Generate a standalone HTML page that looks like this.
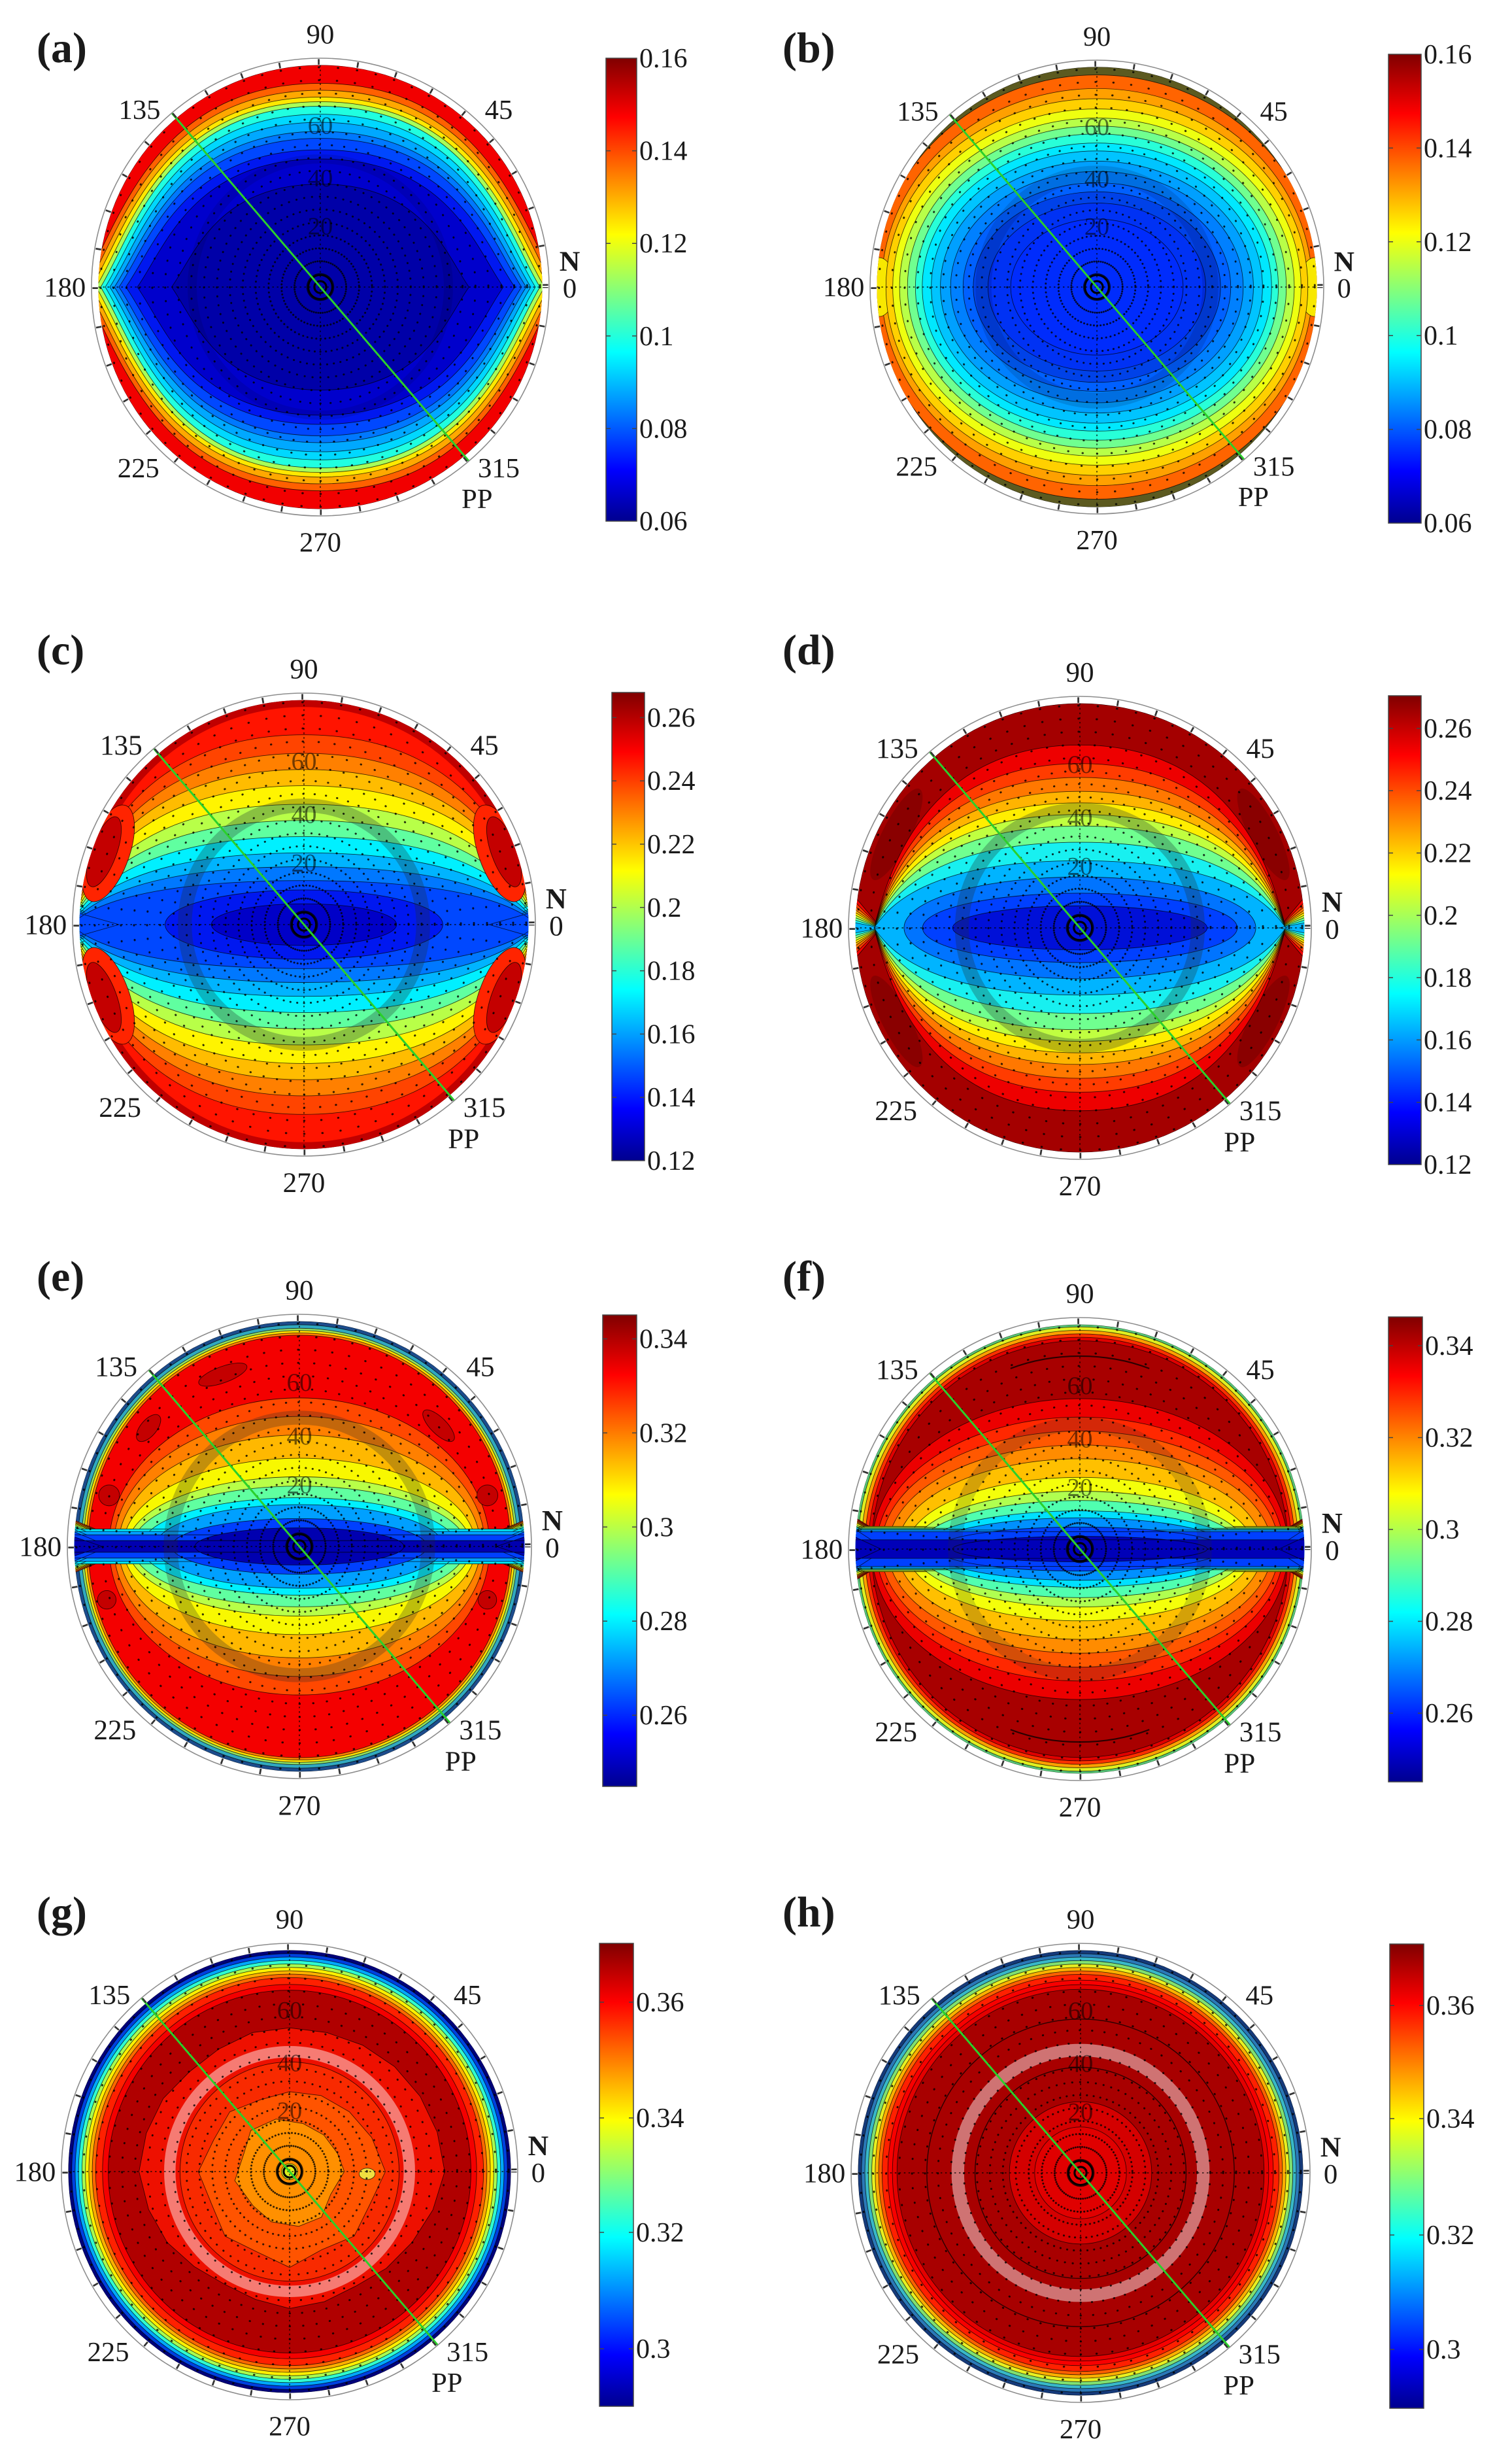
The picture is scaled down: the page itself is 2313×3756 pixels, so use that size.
<!DOCTYPE html>
<html><head><meta charset="utf-8"><style>html,body{margin:0;padding:0;background:#fff}svg{display:block}</style></head><body>
<svg xmlns="http://www.w3.org/2000/svg" width="2313" height="3756" viewBox="0 0 2313 3756" font-family="'Liberation Serif','Times New Roman',serif">
<defs>
<clipPath id="cp"><circle r="97"/></clipPath>
<linearGradient id="jet" x1="0" y1="1" x2="0" y2="0">
<stop offset="0" stop-color="#00008F"/><stop offset="0.111" stop-color="#0000FF"/><stop offset="0.365" stop-color="#00FFFF"/><stop offset="0.619" stop-color="#FFFF00"/><stop offset="0.873" stop-color="#FF0000"/><stop offset="1" stop-color="#800000"/>
</linearGradient>
<g id="dots" fill="none" stroke="#000" stroke-width="0.85" stroke-linecap="round" stroke-dasharray="0.02 0.98" stroke-opacity="0.8">
<circle r="5.65" pathLength="72"/><circle r="11.3" pathLength="72"/><circle r="16.95" pathLength="72"/><circle r="22.6" pathLength="72"/><circle r="28.25" pathLength="72"/><circle r="33.9" pathLength="72"/><circle r="39.55" pathLength="72"/><circle r="45.2" pathLength="72"/><circle r="50.85" pathLength="72"/><circle r="56.5" pathLength="72"/><circle r="62.15" pathLength="72"/><circle r="67.8" pathLength="72"/><circle r="73.45" pathLength="72"/><circle r="79.1" pathLength="72"/><circle r="84.75" pathLength="72"/><circle r="90.4" pathLength="72"/><circle r="96.05" pathLength="72"/>
</g>
<g id="frame" fill="none">
<path d="M-97 0H97M0 -97V97" stroke="#000" stroke-width="0.35" stroke-dasharray="0.7 1.3"/>
<circle r="2.6" stroke="#000" stroke-width="0.9"/>
<circle r="5.2" stroke="#000" stroke-width="0.7"/>
<line x1="-64.9" y1="-76" x2="64.9" y2="76" stroke="#2BD02B" stroke-width="0.85"/>
<circle r="100" stroke="#8C8C8C" stroke-width="0.45"/>
<circle r="98.4" stroke="#333" stroke-width="2.4" pathLength="36" stroke-dasharray="0.045 0.955" stroke-dashoffset="0.0225"/>
</g>
</defs>
<rect width="2313" height="3756" fill="#fff"/>

<!-- ================= (a) ================= -->
<g transform="translate(490 439) scale(3.5)">
<g clip-path="url(#cp)" stroke="#000" stroke-width="0.25" stroke-opacity="0.75">
<circle r="97" fill="#F20000"/>
<path fill="#FF6000" d="M-104 0C-88.4 -26.7 -72.8 -89 0 -89C72.8 -89 88.4 -26.7 104 0C88.4 26.7 72.8 89 0 89C-72.8 89 -88.4 26.7 -104 0Z"/>
<path fill="#FFA800" d="M-102 0C-86.7 -25.8 -71.4 -86 0 -86C71.4 -86 86.7 -25.8 102 0C86.7 25.8 71.4 86 0 86C-71.4 86 -86.7 25.8 -102 0Z"/>
<path fill="#FFE800" d="M-100 0C-85 -24.9 -70 -83 0 -83C70 -83 85 -24.9 100 0C85 24.9 70 83 0 83C-70 83 -85 24.9 -100 0Z"/>
<path fill="#A8FF58" d="M-98 0C-83.3 -24.3 -68.6 -81 0 -81C68.6 -81 83.3 -24.3 98 0C83.3 24.3 68.6 81 0 81C-68.6 81 -83.3 24.3 -98 0Z"/>
<path fill="#20FFE0" d="M-96 0C-81.6 -23.7 -67.2 -79 0 -79C67.2 -79 81.6 -23.7 96 0C81.6 23.7 67.2 79 0 79C-67.2 79 -81.6 23.7 -96 0Z"/>
<path fill="#00D8FF" d="M-94 0C-79.9 -22.65 -65.8 -75.5 0 -75.5C65.8 -75.5 79.9 -22.65 94 0C79.9 22.65 65.8 75.5 0 75.5C-65.8 75.5 -79.9 22.65 -94 0Z"/>
<path fill="#00A8FF" d="M-92 0C-78.2 -21.6 -64.4 -72 0 -72C64.4 -72 78.2 -21.6 92 0C78.2 21.6 64.4 72 0 72C-64.4 72 -78.2 21.6 -92 0Z"/>
<path fill="#0078FF" d="M-90 0C-76.5 -20.4 -63 -68 0 -68C63 -68 76.5 -20.4 90 0C76.5 20.4 63 68 0 68C-63 68 -76.5 20.4 -90 0Z"/>
<path fill="#0048FF" d="M-88 0C-74.8 -19.5 -61.6 -65 0 -65C61.6 -65 74.8 -19.5 88 0C74.8 19.5 61.6 65 0 65C-61.6 65 -74.8 19.5 -88 0Z"/>
<path fill="#0018F0" d="M-85 0C-72.25 -18 -59.5 -60 0 -60C59.5 -60 72.25 -18 85 0C72.25 18 59.5 60 0 60C-59.5 60 -72.25 18 -85 0Z"/>
<path fill="#0000CC" d="M-80 0C-68 -16.8 -56 -56 0 -56C56 -56 68 -16.8 80 0C68 16.8 56 56 0 56C-56 56 -68 16.8 -80 0Z"/>
<path fill="#0000A8" d="M-65 0C-55.25 -13.5 -45.5 -45 0 -45C45.5 -45 55.25 -13.5 65 0C55.25 13.5 45.5 45 0 45C-45.5 45 -55.25 13.5 -65 0Z"/>
</g>
<circle r="56" fill="none" stroke="rgba(0,0,0,0.1)" stroke-width="4"/>
<use href="#dots"/>
<use href="#frame"/>
<g font-size="12.2" fill="#1a1a1a" text-anchor="middle">
<text x="0" y="-106.4">90</text><text x="0" y="115.6">270</text><text x="-102.5" y="4.1" text-anchor="end">180</text><text x="109" y="4.6">0</text><text x="109" y="-7.1" font-weight="bold" font-size="12.5">N</text><text x="-79" y="-73.4">135</text><text x="78" y="-73.4">45</text><text x="-79.5" y="83.1">225</text><text x="78" y="83.1">315</text><text x="68.5" y="96.6">PP</text>
<g font-size="11" fill="#000" fill-opacity="0.55"><text x="0" y="-67">60</text><text x="0" y="-44">40</text><text x="0" y="-23">20</text></g>
</g>
</g>
<text x="56" y="95" font-size="66" font-weight="bold" fill="#1a1a1a">(a)</text>
<rect x="927" y="89" width="47" height="708" fill="url(#jet)" stroke="#444" stroke-width="1.5"/>
<g stroke="#444" stroke-width="1.5"><path d="M927 230.6h7M974 230.6h-7M927 372.2h7M974 372.2h-7M927 513.8h7M974 513.8h-7M927 655.4h7M974 655.4h-7"/></g>
<g font-size="42" fill="#1a1a1a"><text x="978" y="103">0.16</text><text x="978" y="244.6">0.14</text><text x="978" y="386.2">0.12</text><text x="978" y="527.8">0.1</text><text x="978" y="669.4">0.08</text><text x="978" y="811">0.06</text></g>

<!-- ================= (b) ================= -->
<g transform="translate(1678 439) scale(3.47)">
<g clip-path="url(#cp)" stroke="#000" stroke-width="0.25" stroke-opacity="0.75">
<circle r="97" fill="#5C5A20"/>
<ellipse rx="98.5" ry="93.5" fill="#FF6400"/>
<ellipse rx="95" ry="87.5" fill="#FFA000"/>
<ellipse cx="-96" rx="7" ry="13" fill="#F8E800"/>
<ellipse cx="96" rx="7" ry="13" fill="#F8E800"/>
<ellipse rx="93" ry="83" fill="#FFD000"/>
<ellipse rx="90" ry="78.5" fill="#EEFF10"/>
<ellipse rx="87" ry="74.5" fill="#B8FF48"/>
<ellipse rx="83.5" ry="71" fill="#70FF90"/>
<ellipse rx="80" ry="67.5" fill="#28FFD8"/>
<ellipse rx="77" ry="63.5" fill="#00E8FF"/>
<ellipse rx="73" ry="60" fill="#00C4FF"/>
<ellipse rx="69" ry="55.5" fill="#00A0FF"/>
<ellipse rx="64.5" ry="51" fill="#0080FF"/>
<ellipse rx="59" ry="46" fill="#0060FF"/>
<ellipse rx="54.5" ry="42" fill="#0042E8"/>
<ellipse rx="48" ry="37" fill="#0032F4"/>
<ellipse rx="38" ry="30" fill="#002CFC"/>
</g>
<circle r="50" fill="none" stroke="rgba(0,0,40,0.14)" stroke-width="7"/>
<use href="#dots"/>
<use href="#frame"/>
<g font-size="12.2" fill="#1a1a1a" text-anchor="middle">
<text x="0" y="-106.4">90</text><text x="0" y="115.6">270</text><text x="-102.5" y="4.1" text-anchor="end">180</text><text x="109" y="4.6">0</text><text x="109" y="-7.1" font-weight="bold" font-size="12.5">N</text><text x="-79" y="-73.4">135</text><text x="78" y="-73.4">45</text><text x="-79.5" y="83.1">225</text><text x="78" y="83.1">315</text><text x="69" y="96.6">PP</text>
<g font-size="11" fill="#000" fill-opacity="0.55"><text x="0" y="-67">60</text><text x="0" y="-44">40</text><text x="0" y="-23">20</text></g>
</g>
</g>
<text x="1197" y="95" font-size="66" font-weight="bold" fill="#1a1a1a">(b)</text>
<rect x="2124" y="83" width="50" height="717" fill="url(#jet)" stroke="#444" stroke-width="1.5"/>
<g stroke="#444" stroke-width="1.5"><path d="M2124 226.4h7M2174 226.4h-7M2124 369.8h7M2174 369.8h-7M2124 513.2h7M2174 513.2h-7M2124 656.6h7M2174 656.6h-7"/></g>
<g font-size="42" fill="#1a1a1a"><text x="2178" y="97">0.16</text><text x="2178" y="240.4">0.14</text><text x="2178" y="383.8">0.12</text><text x="2178" y="527.2">0.1</text><text x="2178" y="670.6">0.08</text><text x="2178" y="814">0.06</text></g>

<!-- ================= (c) ================= -->
<g transform="translate(465 1414) scale(3.54)">
<g clip-path="url(#cp)" stroke="#000" stroke-width="0.25" stroke-opacity="0.75">
<circle r="97" fill="#FF1400"/>
<path d="M-82.7 -47.75A95.5 95.5 0 0 1 82.7 -47.75M82.7 47.75A95.5 95.5 0 0 1 -82.7 47.75" fill="none" stroke="#C00000" stroke-opacity="1" stroke-width="3"/>
<path fill="#FF4400" d="M-101 0C-95.95 -16.4 -80.8 -82 0 -82C80.8 -82 95.95 -16.4 101 0C95.95 16.4 80.8 82 0 82C-80.8 82 -95.95 16.4 -101 0ZM-80 0L-101 18L-101 -18ZM80 0L101 -18L101 18Z"/>
<path fill="#FF8000" d="M-101 0C-95.95 -14.8 -80.8 -74 0 -74C80.8 -74 95.95 -14.8 101 0C95.95 14.8 80.8 74 0 74C-80.8 74 -95.95 14.8 -101 0ZM-80 0L-101 16L-101 -16ZM80 0L101 -16L101 16Z"/>
<path fill="#FFBC00" d="M-101 0C-95.95 -13.4 -80.8 -67 0 -67C80.8 -67 95.95 -13.4 101 0C95.95 13.4 80.8 67 0 67C-80.8 67 -95.95 13.4 -101 0ZM-80 0L-101 15L-101 -15ZM80 0L101 -15L101 15Z"/>
<path fill="#FFF400" d="M-101 0C-95.95 -12 -80.8 -60 0 -60C80.8 -60 95.95 -12 101 0C95.95 12 80.8 60 0 60C-80.8 60 -95.95 12 -101 0ZM-80 0L-101 14L-101 -14ZM80 0L101 -14L101 14Z"/>
<path fill="#B8FF48" d="M-101 0C-95.95 -10.4 -80.8 -52 0 -52C80.8 -52 95.95 -10.4 101 0C95.95 10.4 80.8 52 0 52C-80.8 52 -95.95 10.4 -101 0ZM-80 0L-101 12.5L-101 -12.5ZM80 0L101 -12.5L101 12.5Z"/>
<path fill="#60FFA0" d="M-101 0C-95.95 -9 -80.8 -45 0 -45C80.8 -45 95.95 -9 101 0C95.95 9 80.8 45 0 45C-80.8 45 -95.95 9 -101 0ZM-80 0L-101 11L-101 -11ZM80 0L101 -11L101 11Z"/>
<path fill="#00F0FF" d="M-101 0C-95.95 -7.6 -80.8 -38 0 -38C80.8 -38 95.95 -7.6 101 0C95.95 7.6 80.8 38 0 38C-80.8 38 -95.95 7.6 -101 0ZM-80 0L-101 10L-101 -10ZM80 0L101 -10L101 10Z"/>
<path fill="#00B4FF" d="M-101 0C-95.95 -6.2 -80.8 -31 0 -31C80.8 -31 95.95 -6.2 101 0C95.95 6.2 80.8 31 0 31C-80.8 31 -95.95 6.2 -101 0ZM-80 0L-101 8L-101 -8ZM80 0L101 -8L101 8Z"/>
<path fill="#0078FF" d="M-101 0C-95.95 -5 -80.8 -25 0 -25C80.8 -25 95.95 -5 101 0C95.95 5 80.8 25 0 25C-80.8 25 -95.95 5 -101 0ZM-80 0L-101 7L-101 -7ZM80 0L101 -7L101 7Z"/>
<path fill="#0048FF" d="M-101 0C-95.95 -3.8 -80.8 -19 0 -19C80.8 -19 95.95 -3.8 101 0C95.95 3.8 80.8 19 0 19C-80.8 19 -95.95 3.8 -101 0ZM-80 0L-101 6L-101 -6ZM80 0L101 -6L101 6Z"/>
<ellipse rx="60" ry="15" fill="#0018F0"/>
<ellipse rx="40" ry="9" fill="#0000C8"/>
<g fill="#FF2400"><ellipse cx="90" rx="9" ry="22" transform="rotate(-160)"/><ellipse cx="90" rx="9" ry="22" transform="rotate(-20)"/><ellipse cx="90" rx="9" ry="22" transform="rotate(20)"/><ellipse cx="90" rx="9" ry="22" transform="rotate(160)"/></g>
<g fill="#C40000"><ellipse cx="92" rx="5.5" ry="16" transform="rotate(-160)"/><ellipse cx="92" rx="5.5" ry="16" transform="rotate(-20)"/><ellipse cx="92" rx="5.5" ry="16" transform="rotate(20)"/><ellipse cx="92" rx="5.5" ry="16" transform="rotate(160)"/></g>
</g>
<circle r="51.5" fill="none" stroke="rgba(30,50,50,0.3)" stroke-width="6"/>
<use href="#dots"/>
<use href="#frame"/>
<g font-size="12.2" fill="#1a1a1a" text-anchor="middle">
<text x="0" y="-106.4">90</text><text x="0" y="115.6">270</text><text x="-102.5" y="4.1" text-anchor="end">180</text><text x="109" y="4.6">0</text><text x="109" y="-7.1" font-weight="bold" font-size="12.5">N</text><text x="-79" y="-73.4">135</text><text x="78" y="-73.4">45</text><text x="-79.5" y="83.1">225</text><text x="78" y="83.1">315</text><text x="69" y="96.6">PP</text>
<g font-size="11" fill="#000" fill-opacity="0.55"><text x="0" y="-67">60</text><text x="0" y="-44">40</text><text x="0" y="-23">20</text></g>
</g>
</g>
<text x="56" y="1016" font-size="66" font-weight="bold" fill="#1a1a1a">(c)</text>
<rect x="936" y="1059" width="50" height="716" fill="url(#jet)" stroke="#444" stroke-width="1.5"/>
<g stroke="#444" stroke-width="1.5"><path d="M936 1097.4h7M986 1097.4h-7M936 1194.2h7M986 1194.2h-7M936 1291h7M986 1291h-7M936 1387.8h7M986 1387.8h-7M936 1484.6h7M986 1484.6h-7M936 1581.4h7M986 1581.4h-7M936 1678.2h7M986 1678.2h-7"/></g>
<g font-size="42" fill="#1a1a1a"><text x="990" y="1111.4">0.26</text><text x="990" y="1208.2">0.24</text><text x="990" y="1305">0.22</text><text x="990" y="1401.8">0.2</text><text x="990" y="1498.6">0.18</text><text x="990" y="1595.4">0.16</text><text x="990" y="1692.2">0.14</text><text x="990" y="1789">0.12</text></g>

<!-- ================= (d) ================= -->
<g transform="translate(1652 1419) scale(3.54)">
<g clip-path="url(#cp)" stroke="#000" stroke-width="0.25" stroke-opacity="0.75">
<circle r="97" fill="#A40000"/>
<g fill="#8A0000" stroke="none"><ellipse cx="89" rx="6" ry="22" transform="rotate(-153)"/><ellipse cx="89" rx="6" ry="22" transform="rotate(-27)"/><ellipse cx="89" rx="6" ry="22" transform="rotate(27)"/><ellipse cx="89" rx="6" ry="22" transform="rotate(153)"/></g>
<path fill="#EE0000" d="M-89 0C-84.55 -15.8 -71.2 -79 0 -79C71.2 -79 84.55 -15.8 89 0C84.55 15.8 71.2 79 0 79C-71.2 79 -84.55 15.8 -89 0ZM-86 0L-101 18L-101 -18ZM86 0L101 -18L101 18Z"/>
<path fill="#FF3C00" d="M-89 0C-84.55 -14.2 -71.2 -71 0 -71C71.2 -71 84.55 -14.2 89 0C84.55 14.2 71.2 71 0 71C-71.2 71 -84.55 14.2 -89 0ZM-86 0L-101 15L-101 -15ZM86 0L101 -15L101 15Z"/>
<path fill="#FF7800" d="M-89 0C-84.55 -13 -71.2 -65 0 -65C71.2 -65 84.55 -13 89 0C84.55 13 71.2 65 0 65C-71.2 65 -84.55 13 -89 0ZM-86 0L-101 12.5L-101 -12.5ZM86 0L101 -12.5L101 12.5Z"/>
<path fill="#FFB400" d="M-89 0C-84.55 -11.8 -71.2 -59 0 -59C71.2 -59 84.55 -11.8 89 0C84.55 11.8 71.2 59 0 59C-71.2 59 -84.55 11.8 -89 0ZM-86 0L-101 10.5L-101 -10.5ZM86 0L101 -10.5L101 10.5Z"/>
<path fill="#FFEE00" d="M-89 0C-84.55 -10.8 -71.2 -54 0 -54C71.2 -54 84.55 -10.8 89 0C84.55 10.8 71.2 54 0 54C-71.2 54 -84.55 10.8 -89 0ZM-86 0L-101 9L-101 -9ZM86 0L101 -9L101 9Z"/>
<path fill="#C0FF40" d="M-89 0C-84.55 -9.8 -71.2 -49 0 -49C71.2 -49 84.55 -9.8 89 0C84.55 9.8 71.2 49 0 49C-71.2 49 -84.55 9.8 -89 0ZM-86 0L-101 7.5L-101 -7.5ZM86 0L101 -7.5L101 7.5Z"/>
<path fill="#70FF90" d="M-89 0C-84.55 -8.8 -71.2 -44 0 -44C71.2 -44 84.55 -8.8 89 0C84.55 8.8 71.2 44 0 44C-71.2 44 -84.55 8.8 -89 0ZM-86 0L-101 6L-101 -6ZM86 0L101 -6L101 6Z"/>
<path fill="#18F0F0" d="M-89 0C-84.55 -7.4 -71.2 -37 0 -37C71.2 -37 84.55 -7.4 89 0C84.55 7.4 71.2 37 0 37C-71.2 37 -84.55 7.4 -89 0ZM-86 0L-101 4.5L-101 -4.5ZM86 0L101 -4.5L101 4.5Z"/>
<path fill="#00B4FF" d="M-89 0C-84.55 -5.8 -71.2 -29 0 -29C71.2 -29 84.55 -5.8 89 0C84.55 5.8 71.2 29 0 29C-71.2 29 -84.55 5.8 -89 0ZM-86 0L-101 3L-101 -3ZM86 0L101 -3L101 3Z"/>
<ellipse rx="76" ry="22" fill="#0074FF"/>
<ellipse rx="68" ry="15" fill="#0040FF"/>
<ellipse rx="55" ry="9.5" fill="#0010D8"/>
</g>
<circle r="51" fill="none" stroke="rgba(30,50,50,0.3)" stroke-width="6"/>
<use href="#dots"/>
<use href="#frame"/>
<g font-size="12.2" fill="#1a1a1a" text-anchor="middle">
<text x="0" y="-106.4">90</text><text x="0" y="115.6">270</text><text x="-102.5" y="4.1" text-anchor="end">180</text><text x="109" y="4.6">0</text><text x="109" y="-7.1" font-weight="bold" font-size="12.5">N</text><text x="-79" y="-73.4">135</text><text x="78" y="-73.4">45</text><text x="-79.5" y="83.1">225</text><text x="78" y="83.1">315</text><text x="69" y="96.6">PP</text>
<g font-size="11" fill="#000" fill-opacity="0.55"><text x="0" y="-67">60</text><text x="0" y="-44">40</text><text x="0" y="-23">20</text></g>
</g>
</g>
<text x="1197" y="1016" font-size="66" font-weight="bold" fill="#1a1a1a">(d)</text>
<rect x="2124" y="1064" width="50" height="717" fill="url(#jet)" stroke="#444" stroke-width="1.5"/>
<g stroke="#444" stroke-width="1.5"><path d="M2124 1113.9h7M2174 1113.9h-7M2124 1209.2h7M2174 1209.2h-7M2124 1304.5h7M2174 1304.5h-7M2124 1399.8h7M2174 1399.8h-7M2124 1495.1h7M2174 1495.1h-7M2124 1590.4h7M2174 1590.4h-7M2124 1685.7h7M2174 1685.7h-7"/></g>
<g font-size="42" fill="#1a1a1a"><text x="2178" y="1127.9">0.26</text><text x="2178" y="1223.2">0.24</text><text x="2178" y="1318.5">0.22</text><text x="2178" y="1413.8">0.2</text><text x="2178" y="1509.1">0.18</text><text x="2178" y="1604.4">0.16</text><text x="2178" y="1699.7">0.14</text><text x="2178" y="1795">0.12</text></g>

<!-- ================= (e) ================= -->
<g transform="translate(458 2365) scale(3.55)">
<g clip-path="url(#cp)" stroke="#000" stroke-width="0.25" stroke-opacity="0.75">
<circle r="97" fill="#1C4C8C"/>
<circle r="95.5" fill="#30A8C0"/>
<circle r="94" fill="#90E060"/>
<circle r="93" fill="#FFE000"/>
<circle r="92" fill="#FF8000"/>
<circle r="91" fill="#F40000"/>
<path fill="#FF4800" d="M-82 0A82 64 0 0 1 82 0A82 64 0 0 1 -82 0ZM-70 0L-101 13L-101 -13ZM70 0L101 -13L101 13Z"/>
<path fill="#FF8000" d="M-80 0A80 56 0 0 1 80 0A80 56 0 0 1 -80 0ZM-70 0L-101 12.5L-101 -12.5ZM70 0L101 -12.5L101 12.5Z"/>
<path fill="#FFB800" d="M-78 0A78 48 0 0 1 78 0A78 48 0 0 1 -78 0ZM-70 0L-101 12L-101 -12ZM70 0L101 -12L101 12Z"/>
<path fill="#F8F800" d="M-76 0A76 38 0 0 1 76 0A76 38 0 0 1 -76 0ZM-70 0L-101 11.5L-101 -11.5ZM70 0L101 -11.5L101 11.5Z"/>
<path fill="#B8FF48" d="M-74 0A74 30 0 0 1 74 0A74 30 0 0 1 -74 0ZM-70 0L-101 11L-101 -11ZM70 0L101 -11L101 11Z"/>
<path fill="#60FFA0" d="M-72 0A72 26 0 0 1 72 0A72 26 0 0 1 -72 0ZM-72 0L-101 10.5L-101 -10.5ZM72 0L101 -10.5L101 10.5Z"/>
<path fill="#00F0FF" d="M-68 0A68 21 0 0 1 68 0A68 21 0 0 1 -68 0ZM-101 -7.5L101 -7.5L101 7.5L-101 7.5ZM-75 0L-101 10L-101 -10ZM75 0L101 -10L101 10Z"/>
<path fill="#00A0FF" d="M-62 0A62 18 0 0 1 62 0A62 18 0 0 1 -62 0ZM-101 -6.5L101 -6.5L101 6.5L-101 6.5ZM-80 0L-101 9L-101 -9ZM80 0L101 -9L101 9Z"/>
<path fill="#0040FF" d="M-55 0A55 12 0 0 1 55 0A55 12 0 0 1 -55 0ZM-101 -5L101 -5L101 5L-101 5ZM-82 0L-101 8L-101 -8ZM82 0L101 -8L101 8Z"/>
<path fill="#0000B0" d="M-45 0A45 8 0 0 1 45 0A45 8 0 0 1 -45 0ZM-101 -2.5L101 -2.5L101 2.5L-101 2.5ZM-85 0L-101 5.5L-101 -5.5ZM85 0L101 -5.5L101 5.5Z"/>
<g fill="#C40000"><ellipse cx="-33" cy="-74" rx="11" ry="3.5" transform="rotate(-20 -33 -74)"/><ellipse cx="-65" cy="-51" rx="7" ry="3.5" transform="rotate(-50 -65 -51)"/><ellipse cx="60" cy="-52" rx="9" ry="3.5" transform="rotate(45 60 -52)"/><circle cx="-82" cy="-22" r="4.5"/><circle cx="81" cy="-22" r="4.5"/><circle cx="-83" cy="23" r="4"/><circle cx="81" cy="23" r="4"/></g>
</g>
<circle r="55.5" fill="none" stroke="rgba(40,40,40,0.28)" stroke-width="6"/>
<use href="#dots"/>
<use href="#frame"/>
<g font-size="12.2" fill="#1a1a1a" text-anchor="middle">
<text x="0" y="-106.4">90</text><text x="0" y="115.6">270</text><text x="-102.5" y="4.1" text-anchor="end">180</text><text x="109" y="4.6">0</text><text x="109" y="-7.1" font-weight="bold" font-size="12.5">N</text><text x="-79" y="-73.4">135</text><text x="78" y="-73.4">45</text><text x="-79.5" y="83.1">225</text><text x="78" y="83.1">315</text><text x="69.5" y="96.6">PP</text>
<g font-size="11" fill="#000" fill-opacity="0.55"><text x="0" y="-67">60</text><text x="0" y="-44">40</text><text x="0" y="-23">20</text></g>
</g>
</g>
<text x="56" y="1974" font-size="66" font-weight="bold" fill="#1a1a1a">(e)</text>
<rect x="922" y="2011" width="52" height="721" fill="url(#jet)" stroke="#444" stroke-width="1.5"/>
<g stroke="#444" stroke-width="1.5"><path d="M922 2047.5h7M974 2047.5h-7M922 2191.4h7M974 2191.4h-7M922 2335.3h7M974 2335.3h-7M922 2479.2h7M974 2479.2h-7M922 2623.1h7M974 2623.1h-7"/></g>
<g font-size="42" fill="#1a1a1a"><text x="978" y="2061.5">0.34</text><text x="978" y="2205.4">0.32</text><text x="978" y="2349.3">0.3</text><text x="978" y="2493.2">0.28</text><text x="978" y="2637.1">0.26</text></g>

<!-- ================= (f) ================= -->
<g transform="translate(1652 2369) scale(3.54)">
<g clip-path="url(#cp)" stroke="#000" stroke-width="0.25" stroke-opacity="0.75">
<circle r="97" fill="#58C878"/>
<circle r="96" fill="#E0F020"/>
<circle r="94.5" fill="#FFA000"/>
<circle r="93" fill="#FF3000"/>
<circle r="91.5" fill="#E00000"/>
<circle r="90" fill="#A80000"/>
<path fill="#EC0000" d="M-90 0A90 65 0 0 1 90 0A90 65 0 0 1 -90 0ZM-75 0L-101 16L-101 -16ZM75 0L101 -16L101 16Z"/>
<path fill="#FF2800" d="M-88 0A88 57 0 0 1 88 0A88 57 0 0 1 -88 0ZM-75 0L-101 15.5L-101 -15.5ZM75 0L101 -15.5L101 15.5Z"/>
<path fill="#FF5800" d="M-86 0A86 51 0 0 1 86 0A86 51 0 0 1 -86 0ZM-75 0L-101 15L-101 -15ZM75 0L101 -15L101 15Z"/>
<path fill="#FF8C00" d="M-83 0A83 45 0 0 1 83 0A83 45 0 0 1 -83 0ZM-75 0L-101 14.5L-101 -14.5ZM75 0L101 -14.5L101 14.5Z"/>
<path fill="#FFC000" d="M-79 0A79 39 0 0 1 79 0A79 39 0 0 1 -79 0ZM-75 0L-101 14L-101 -14ZM75 0L101 -14L101 14Z"/>
<path fill="#F4FF0A" d="M-75 0A75 31 0 0 1 75 0A75 31 0 0 1 -75 0ZM-101 -9.8L101 -9.8L101 9.8L-101 9.8ZM-75 0L-101 13.5L-101 -13.5ZM75 0L101 -13.5L101 13.5Z"/>
<path fill="#B0FF50" d="M-72 0A72 25 0 0 1 72 0A72 25 0 0 1 -72 0ZM-101 -9.4L101 -9.4L101 9.4L-101 9.4ZM-78 0L-101 13L-101 -13ZM78 0L101 -13L101 13Z"/>
<path fill="#50FFB0" d="M-70 0A70 21 0 0 1 70 0A70 21 0 0 1 -70 0ZM-101 -9L101 -9L101 9L-101 9ZM-80 0L-101 12.5L-101 -12.5ZM80 0L101 -12.5L101 12.5Z"/>
<path fill="#00E0FF" d="M-68 0A68 16.5 0 0 1 68 0A68 16.5 0 0 1 -68 0ZM-101 -8.6L101 -8.6L101 8.6L-101 8.6ZM-80 0L-101 12L-101 -12ZM80 0L101 -12L101 12Z"/>
<path fill="#0090FF" d="M-65 0A65 13.5 0 0 1 65 0A65 13.5 0 0 1 -65 0ZM-101 -8.2L101 -8.2L101 8.2L-101 8.2ZM-82 0L-101 11.5L-101 -11.5ZM82 0L101 -11.5L101 11.5Z"/>
<path fill="#0040FF" d="M-62 0A62 9.5 0 0 1 62 0A62 9.5 0 0 1 -62 0ZM-101 -7.5L101 -7.5L101 7.5L-101 7.5ZM-84 0L-101 11L-101 -11ZM84 0L101 -11L101 11Z"/>
<path fill="#0000B8" d="M-55 0A55 5.5 0 0 1 55 0A55 5.5 0 0 1 -55 0ZM-101 -4L101 -4L101 4L-101 4ZM-86 0L-101 7L-101 -7ZM86 0L101 -7L101 7Z"/>
<path d="M-30 -78A60 40 0 0 1 30 -78M-30 78A60 40 0 0 0 30 78" fill="none" stroke-width="0.6"/>
</g>
<circle r="54" fill="none" stroke="rgba(40,40,40,0.2)" stroke-width="6"/>
<use href="#dots"/>
<use href="#frame"/>
<g font-size="12.2" fill="#1a1a1a" text-anchor="middle">
<text x="0" y="-106.4">90</text><text x="0" y="115.6">270</text><text x="-102.5" y="4.1" text-anchor="end">180</text><text x="109" y="4.6">0</text><text x="109" y="-7.1" font-weight="bold" font-size="12.5">N</text><text x="-79" y="-73.4">135</text><text x="78" y="-73.4">45</text><text x="-79.5" y="83.1">225</text><text x="78" y="83.1">315</text><text x="69" y="96.6">PP</text>
<g font-size="11" fill="#000" fill-opacity="0.55"><text x="0" y="-67">60</text><text x="0" y="-44">40</text><text x="0" y="-23">20</text></g>
</g>
</g>
<text x="1197" y="1974" font-size="66" font-weight="bold" fill="#1a1a1a">(f)</text>
<rect x="2124" y="2014" width="52" height="711" fill="url(#jet)" stroke="#444" stroke-width="1.5"/>
<g stroke="#444" stroke-width="1.5"><path d="M2124 2058h7M2176 2058h-7M2124 2198.5h7M2176 2198.5h-7M2124 2339h7M2176 2339h-7M2124 2479.5h7M2176 2479.5h-7M2124 2620h7M2176 2620h-7"/></g>
<g font-size="42" fill="#1a1a1a"><text x="2180" y="2072">0.34</text><text x="2180" y="2212.5">0.32</text><text x="2180" y="2353">0.3</text><text x="2180" y="2493.5">0.28</text><text x="2180" y="2634">0.26</text></g>

<!-- ================= (g) ================= -->
<g transform="translate(443 3321) scale(3.49)">
<g clip-path="url(#cp)" stroke="#000" stroke-width="0.25" stroke-opacity="0.75">
<circle r="97" fill="#00007A"/>
<circle r="95.5" fill="#0040E0"/>
<circle r="94" fill="#00A8FF"/>
<circle r="92.5" fill="#30FFD0"/>
<circle r="91" fill="#A8FF50"/>
<circle r="89.5" fill="#FFF000"/>
<circle r="88" fill="#FFB000"/>
<circle r="86.5" fill="#FF6800"/>
<circle r="85" fill="#FF2000"/>
<circle r="82" fill="#F40000"/>
<circle r="79.5" fill="#B00000"/>
<path fill="#EE1000" d="M68 0L62.8 16.8L53.7 31L42.4 42.4L29 50.2L15.3 57L0 60L-15 56L-28.5 49.4L-41.7 41.7L-53.7 31L-61.8 16.6L-66 0L-62.8 -16.8L-55.4 -32L-43.8 -43.8L-31 -53.7L-16.3 -60.9L0 -63L16.3 -60.9L32 -55.4L46 -46L57.2 -33L64.7 -17.3Z"/>
<circle r="48" fill="#F82A00"/>
<path fill="#FF5400" d="M42 0L35.1 14.6L28.3 28.3L14.2 34.2L0 42L-14.5 35.1L-28.3 28.3L-34.2 14.2L-40 0L-33.3 -13.8L-26.2 -26.2L-13 -31.4L0 -35L13.8 -33.3L26.2 -26.2L36 -14.9Z"/>
<path fill="#FF9000" d="M24 0L18 10L14 20L4 24L-8 22L-16 15L-24 4L-20 -8L-17 -18L-6 -23L6 -21L15 -16L21 -8Z"/>
<circle r="3.5" fill="#D8F020"/>
<ellipse cx="34" cy="1" rx="3.5" ry="2.5" fill="#F0E040"/>
</g>
<circle r="52.5" fill="none" stroke="rgba(255,255,255,0.45)" stroke-width="5"/>
<use href="#dots"/>
<use href="#frame"/>
<g font-size="12.2" fill="#1a1a1a" text-anchor="middle">
<text x="0" y="-106.4">90</text><text x="0" y="115.6">270</text><text x="-102.5" y="4.1" text-anchor="end">180</text><text x="109" y="4.6">0</text><text x="109" y="-7.1" font-weight="bold" font-size="12.5">N</text><text x="-79" y="-73.4">135</text><text x="78" y="-73.4">45</text><text x="-79.5" y="83.1">225</text><text x="78" y="83.1">315</text><text x="69" y="96.6">PP</text>
<g font-size="11" fill="#000" fill-opacity="0.55"><text x="0" y="-67">60</text><text x="0" y="-44">40</text><text x="0" y="-23">20</text></g>
</g>
</g>
<text x="56" y="2946" font-size="66" font-weight="bold" fill="#1a1a1a">(g)</text>
<rect x="917" y="2972" width="52" height="708" fill="url(#jet)" stroke="#444" stroke-width="1.5"/>
<g stroke="#444" stroke-width="1.5"><path d="M917 3062h7M969 3062h-7M917 3239h7M969 3239h-7M917 3414h7M969 3414h-7M917 3592h7M969 3592h-7"/></g>
<g font-size="42" fill="#1a1a1a"><text x="973" y="3076">0.36</text><text x="973" y="3253">0.34</text><text x="973" y="3428">0.32</text><text x="973" y="3606">0.3</text></g>

<!-- ================= (h) ================= -->
<g transform="translate(1653 3323) scale(3.51)">
<g clip-path="url(#cp)" stroke="#000" stroke-width="0.25" stroke-opacity="0.75">
<circle r="97" fill="#153A7A"/>
<circle r="95.5" fill="#2A78B8"/>
<circle r="94" fill="#38B8C8"/>
<circle r="92.5" fill="#80E070"/>
<circle r="91" fill="#E8F020"/>
<circle r="89.5" fill="#FFB000"/>
<circle r="88" fill="#FF6000"/>
<circle r="86.5" fill="#FF2000"/>
<circle r="84" fill="#F80000"/>
<circle r="82" fill="#E40000"/>
<circle r="80" fill="#A80000"/>
<circle r="67" fill="none" stroke-width="0.4"/>
<circle r="46" fill="none" stroke-width="0.4"/>
<circle r="31" fill="#D40000"/>
<circle r="20" fill="#E00000"/>
</g>
<circle r="53.5" fill="none" stroke="rgba(255,255,255,0.45)" stroke-width="5.5"/>
<use href="#dots"/>
<use href="#frame"/>
<g font-size="12.2" fill="#1a1a1a" text-anchor="middle">
<text x="0" y="-106.4">90</text><text x="0" y="115.6">270</text><text x="-102.5" y="4.1" text-anchor="end">180</text><text x="109" y="4.6">0</text><text x="109" y="-7.1" font-weight="bold" font-size="12.5">N</text><text x="-79" y="-73.4">135</text><text x="78" y="-73.4">45</text><text x="-79.5" y="83.1">225</text><text x="78" y="83.1">315</text><text x="69" y="96.6">PP</text>
<g font-size="11" fill="#000" fill-opacity="0.55"><text x="0" y="-67">60</text><text x="0" y="-44">40</text><text x="0" y="-23">20</text></g>
</g>
</g>
<text x="1197" y="2946" font-size="66" font-weight="bold" fill="#1a1a1a">(h)</text>
<rect x="2126" y="2973" width="52" height="710" fill="url(#jet)" stroke="#444" stroke-width="1.5"/>
<g stroke="#444" stroke-width="1.5"><path d="M2126 3067h7M2178 3067h-7M2126 3240h7M2178 3240h-7M2126 3418h7M2178 3418h-7M2126 3593h7M2178 3593h-7"/></g>
<g font-size="42" fill="#1a1a1a"><text x="2182" y="3081">0.36</text><text x="2182" y="3254">0.34</text><text x="2182" y="3432">0.32</text><text x="2182" y="3607">0.3</text></g>
</svg>
</body></html>
